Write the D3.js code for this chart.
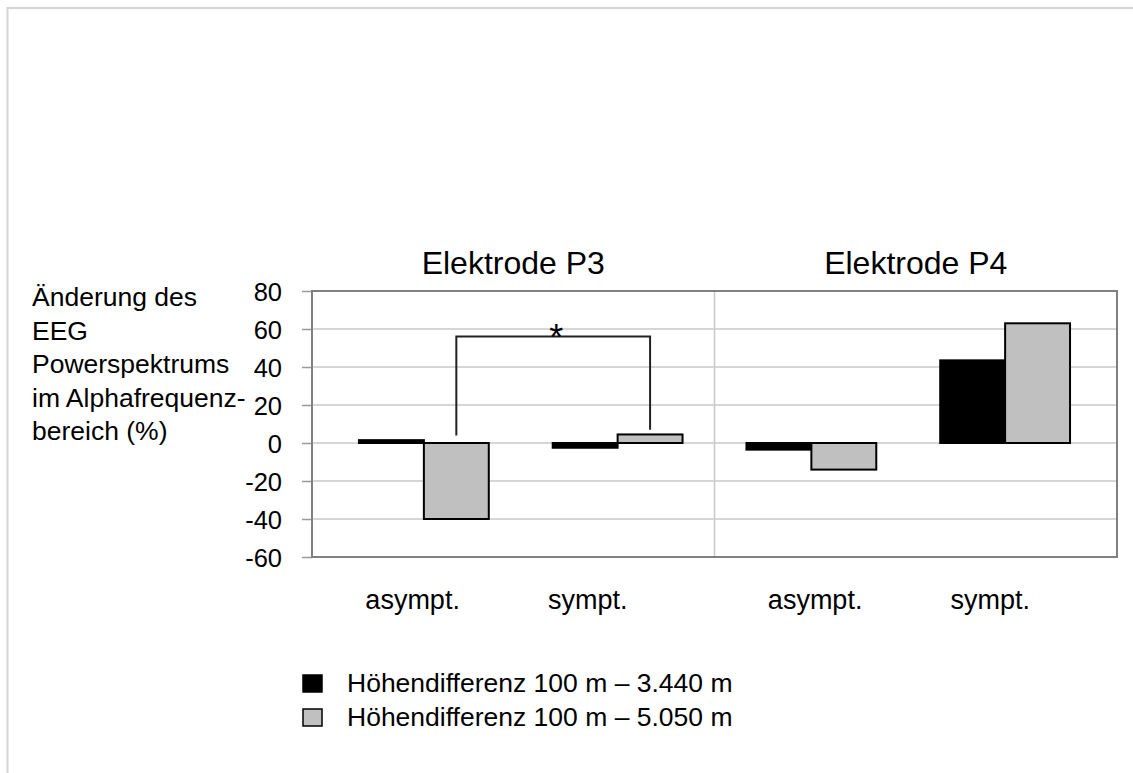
<!DOCTYPE html>
<html>
<head>
<meta charset="utf-8">
<script src="https://cdn.jsdelivr.net/npm/d3@7"></script>
<style>
  body { margin: 0; background: #fff; }
  text { font-family: "Liberation Sans", Arial, sans-serif; fill: #000; }
</style>
</head>
<body>
<div id="chart-area"></div>
<script>
// data
const panels = ["Elektrode P3", "Elektrode P4"];
const categories = ["P3 asympt.", "P3 sympt.", "P4 asympt.", "P4 sympt."];
const catLabels = ["asympt.", "sympt.", "asympt.", "sympt."];
const seriesNames = ["Höhendifferenz 100 m – 3.440 m", "Höhendifferenz 100 m – 5.050 m"];
const seriesColors = ["#000000", "#c0c0c0"];
const values3440 = [1.5, -2.5, -3.5, 43.5];
const values5050 = [-40, 4.5, -14, 63];
const yTicks = [80, 60, 40, 20, 0, -20, -40, -60];
const yLabel = ["Änderung des", "EEG", "Powerspektrums", "im Alphafrequenz-", "bereich (%)"];
// significance bracket: from gray bar of P3 asympt to gray bar of P3 sympt
const bracket = { from: "P3 asympt.", to: "P3 sympt.", top: 56, leftEnd: 4, rightEnd: 7, label: "*" };

const W = 1133, H = 773;
const plot = { left: 312, right: 1117, top: 291, bottom: 557 };

const svg = d3.select("#chart-area")
    .append("svg")
    .attr("width", W)
    .attr("height", H);

// outer frame (top + left only)
svg.append("path")
    .attr("d", "M7.5," + H + "V8H" + W)
    .attr("fill", "none")
    .attr("stroke", "#d4d4d4")
    .attr("stroke-width", 2);

const y = d3.scaleLinear()
    .domain([-60, 80])
    .range([plot.bottom, plot.top]);

const x = d3.scaleBand()
    .domain(categories)
    .range([327, 1102])
    .paddingInner(0.33)
    .paddingOuter(0.165);

const x1 = d3.scaleBand()
    .domain([0, 1])
    .range([0, x.bandwidth()]);

const panelX = d3.scaleBand()
    .domain(panels)
    .range([plot.left, plot.right]);

// label positions: a quarter of the plot per category
const xLab = d3.scaleBand()
    .domain(categories)
    .range([plot.left, plot.right]);

// gridlines
svg.append("g")
    .selectAll("line")
    .data(yTicks)
    .enter()
    .append("line")
    .attr("x1", plot.left)
    .attr("x2", plot.right)
    .attr("y1", d => y(d))
    .attr("y2", d => y(d))
    .attr("stroke", "#c8c8c8")
    .attr("stroke-width", 1.5);

// panel divider
svg.append("line")
    .attr("x1", panelX(panels[1]))
    .attr("x2", panelX(panels[1]))
    .attr("y1", plot.top)
    .attr("y2", plot.bottom)
    .attr("stroke", "#c8c8c8")
    .attr("stroke-width", 1.5);

// y axis
const yAxisCall = d3.axisLeft(y)
    .tickValues(yTicks)
    .tickSize(10)
    .tickPadding(20)
    .tickFormat(d => d);
const yAxis = svg.append("g")
    .attr("transform", "translate(" + plot.left + ",0)")
    .call(yAxisCall);
yAxis.select(".domain").remove();
yAxis.selectAll("line").attr("stroke", "#999").attr("stroke-width", 1.5);
yAxis.selectAll("text")
    .attr("font-size", "25.5px")
    .attr("fill", "#000")
    .attr("dy", "0.36em")
    .style("font-family", "Liberation Sans, Arial, sans-serif");

// bars
const series = [values3440, values5050];
series.forEach((vals, si) => {
    svg.append("g")
        .selectAll("rect")
        .data(vals)
        .enter()
        .append("rect")
        .attr("x", (d, i) => x(categories[i]) + x1(si))
        .attr("y", d => y(Math.max(0, d)))
        .attr("width", x1.bandwidth())
        .attr("height", d => Math.abs(y(d) - y(0)))
        .attr("fill", seriesColors[si])
        .attr("stroke", "#000")
        .attr("stroke-width", 2);
});

// plot frame
svg.append("rect")
    .attr("x", plot.left)
    .attr("y", plot.top)
    .attr("width", plot.right - plot.left)
    .attr("height", plot.bottom - plot.top)
    .attr("fill", "none")
    .attr("stroke", "#808080")
    .attr("stroke-width", 2);

// significance bracket
const bx0 = x(bracket.from) + x1(1) + x1.bandwidth() / 2;
const bx1 = x(bracket.to) + x1(1) + x1.bandwidth() / 2;
svg.append("path")
    .attr("d", "M" + bx0 + "," + y(bracket.leftEnd) + "V" + y(bracket.top) +
        "H" + bx1 + "V" + y(bracket.rightEnd))
    .attr("fill", "none")
    .attr("stroke", "#222")
    .attr("stroke-width", 2);
svg.append("text")
    .attr("x", (bx0 + bx1) / 2 + 3)
    .attr("y", y(bracket.top) + 13)
    .attr("text-anchor", "middle")
    .attr("font-size", "36px")
    .attr("fill", "#222")
    .text(bracket.label);

// panel titles
svg.append("g")
    .selectAll("text")
    .data(panels)
    .enter()
    .append("text")
    .attr("x", d => panelX(d) + panelX.bandwidth() / 2)
    .attr("y", 274)
    .attr("text-anchor", "middle")
    .attr("font-size", "32px")
    .text(d => d);

// category labels
svg.append("g")
    .selectAll("text")
    .data(categories)
    .enter()
    .append("text")
    .attr("x", d => xLab(d) + xLab.bandwidth() / 2)
    .attr("dx", (d, i) => i % 2 ? -26 : 0)
    .attr("y", 609)
    .attr("text-anchor", "middle")
    .attr("font-size", "27px")
    .text((d, i) => catLabels[i]);

// y label
svg.append("text")
    .attr("x", 32)
    .attr("y", 306)
    .attr("font-size", "26.5px")
    .selectAll("tspan")
    .data(yLabel)
    .enter()
    .append("tspan")
    .attr("x", 32)
    .attr("dy", (d, i) => i === 0 ? 0 : 33.5)
    .text(d => d);

// legend
const legend = svg.append("g")
    .selectAll("g")
    .data(seriesNames)
    .enter()
    .append("g")
    .attr("transform", (d, i) => "translate(303," + (675 + i * 34) + ")");
legend.append("rect")
    .attr("width", 19)
    .attr("height", 17)
    .attr("fill", (d, i) => seriesColors[i])
    .attr("stroke", "#000")
    .attr("stroke-width", 1.5);
legend.append("text")
    .attr("x", 44)
    .attr("y", 17)
    .attr("font-size", "26.5px")
    .text(d => d);
</script>
</body>
</html>
